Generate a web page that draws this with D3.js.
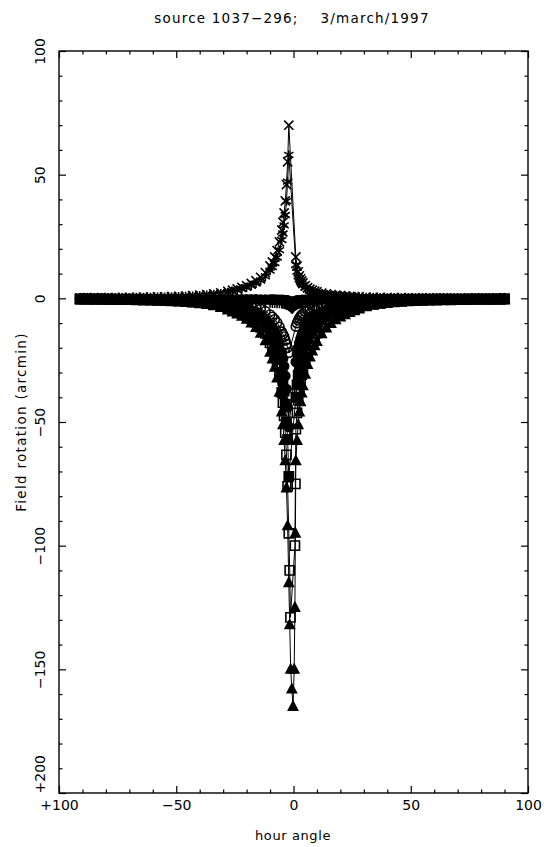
<!DOCTYPE html>
<html>
<head>
<meta charset="utf-8">
<script src="https://cdn.jsdelivr.net/npm/d3@7"></script>
<style>
  body { margin: 0; background: #fff; }
  text { font-family: "DejaVu Sans", sans-serif; fill: #000; }
</style>
</head>
<body>
<div id="chart"></div>
<script>
// hour angle grids shared by the series
const hourLeft = [-91, -88, -85, -82, -79, -76, -73, -70, -67, -64, -61, -58, -55, -52, -49, -46, -43, -40, -37, -34, -31, -28, -26, -24, -22, -20, -18, -16, -14, -12, -10, -9, -8, -7, -6, -5, -4.5, -4, -3.5, -3, -2.5, -2];
const hourRight = [1, 1.5, 2, 2.5, 3, 3.5, 4, 5, 6, 7, 8, 9, 10, 12, 14, 16, 18, 20, 22, 24, 26, 28, 31, 34, 37, 40, 43, 46, 49, 52, 55, 58, 61, 64, 67, 70, 73, 76, 79, 82, 85, 88, 90];

// upper curve, crosses
const crossLeft = [0.2, 0.3, 0.3, 0.3, 0.3, 0.3, 0.4, 0.4, 0.4, 0.5, 0.5, 0.6, 0.6, 0.7, 0.8, 0.9, 1.1, 1.3, 1.5, 1.8, 2.2, 2.8, 3.3, 3.8, 4.4, 5.1, 6.0, 7.1, 8.5, 10.4, 13.1, 14.7, 16.7, 19.3, 22.8, 27.6, 30.7, 34.5, 39.4, 46.0, 55.2, 70.0];
const crossRight = [16.7, 13.0, 10.7, 9.1, 7.9, 7.0, 6.2, 5.1, 4.3, 3.7, 3.3, 2.9, 2.6, 2.1, 1.8, 1.5, 1.3, 1.1, 1.0, 0.8, 0.7, 0.6, 0.5, 0.4, 0.4, 0.3, 0.3, 0.3, 0.2, 0.2, 0.2, 0.2, 0.2, 0.2, 0.1, 0.1, 0.1, 0.1, 0.1, 0.1, 0.1, 0.1, 0.1];

// upper curve, asterisks
const starLeft = [0.2, 0.2, 0.2, 0.2, 0.3, 0.3, 0.3, 0.3, 0.4, 0.4, 0.4, 0.5, 0.5, 0.6, 0.7, 0.8, 0.9, 1.1, 1.3, 1.6, 1.9, 2.4, 2.8, 3.2, 3.8, 4.4, 5.1, 6.0, 7.2, 8.9, 11.2, 12.6, 14.3, 16.5, 19.5, 23.6, 26.2, 29.5, 33.7, 39.3, 47.2, 58.0];
const starRight = [13.5, 10.8, 9.0, 7.7, 6.7, 5.9, 5.3, 4.3, 3.6, 3.1, 2.8, 2.5, 2.2, 1.8, 1.5, 1.3, 1.1, 0.9, 0.8, 0.7, 0.6, 0.5, 0.4, 0.4, 0.3, 0.3, 0.3, 0.2, 0.2, 0.2, 0.2, 0.1, 0.1, 0.1, 0.1, 0.1, 0.1, 0.1, 0.1, 0.1, 0.1, 0.1, 0.1];

// nearly flat series
const flatHourSpike = [-1.5, -1, -0.5, 0, 0.5];
const flatALeft = [-0.2, -0.2, -0.2, -0.2, -0.2, -0.2, -0.2, -0.2, -0.3, -0.3, -0.3, -0.3, -0.3, -0.3, -0.3, -0.3, -0.3, -0.3, -0.3, -0.3, -0.4, -0.4, -0.4, -0.4, -0.4, -0.4, -0.4, -0.4, -0.5, -0.5, -0.5, -0.5, -0.5, -0.6, -0.6, -0.6, -0.7, -0.7, -0.8, -0.8, -0.9, -1.0];
const flatASpike = [-1.2, -1.5, -1.8, -1.6, -1.2];
const flatARight = [-1.0, -0.9, -0.8, -0.8, -0.7, -0.7, -0.6, -0.6, -0.5, -0.5, -0.5, -0.5, -0.5, -0.4, -0.4, -0.4, -0.4, -0.4, -0.4, -0.3, -0.3, -0.3, -0.3, -0.3, -0.3, -0.3, -0.3, -0.3, -0.3, -0.3, -0.2, -0.2, -0.2, -0.2, -0.2, -0.2, -0.2, -0.2, -0.2, -0.2, -0.2, -0.2, -0.2];
const flatBLeft = [-0.6, -0.6, -0.6, -0.7, -0.7, -0.7, -0.8, -0.8, -0.8, -0.9, -0.9, -1.0, -1.0, -1.1, -1.1, -1.2, -1.2, -1.3, -1.3, -1.4, -1.4, -1.5, -1.5, -1.6, -1.6, -1.7, -1.7, -1.8, -1.8, -1.9, -1.9, -2.0, -2.0, -2.1, -2.2, -2.3, -2.4, -2.5, -2.6, -2.8, -3.0, -3.3];
const flatBSpike = [-3.7, -4.2, -4.5, -4.0, -3.4];
const flatBRight = [-3.0, -2.7, -2.5, -2.4, -2.3, -2.2, -2.1, -2.0, -1.9, -1.9, -1.8, -1.8, -1.8, -1.7, -1.7, -1.6, -1.6, -1.5, -1.5, -1.4, -1.4, -1.3, -1.3, -1.2, -1.2, -1.1, -1.1, -1.0, -1.0, -1.0, -0.9, -0.9, -0.9, -0.8, -0.8, -0.8, -0.7, -0.7, -0.7, -0.6, -0.6, -0.6, -0.6];

// lower curves, from the innermost to the outermost
const lowALeft = [-0.1, -0.1, -0.1, -0.1, -0.2, -0.2, -0.2, -0.2, -0.2, -0.2, -0.3, -0.3, -0.3, -0.4, -0.4, -0.5, -0.6, -0.6, -0.8, -0.9, -1.1, -1.4, -1.7, -1.9, -2.2, -2.6, -3.0, -3.6, -4.3, -5.2, -6.6, -7.5, -8.5, -9.8, -11.5, -13.5, -14.5, -15.5, -17, -18.5, -20, -22];
const lowARight = [-11.4, -10.0, -8.9, -8.0, -7.3, -6.7, -6.2, -5.3, -4.7, -4.1, -3.7, -3.3, -3.0, -2.5, -2.1, -1.8, -1.5, -1.3, -1.1, -1.0, -0.9, -0.7, -0.6, -0.5, -0.4, -0.3, -0.3, -0.3, -0.2, -0.2, -0.2, -0.2, -0.1, -0.1, -0.1, -0.1, -0.1, -0.1, -0.1, -0.1, -0.1, -0.1, -0.1];

const lowBLeft = [-0.2, -0.2, -0.2, -0.2, -0.3, -0.3, -0.3, -0.3, -0.3, -0.4, -0.4, -0.5, -0.5, -0.6, -0.7, -0.7, -0.9, -1.0, -1.2, -1.5, -1.8, -2.2, -2.6, -3.0, -3.5, -4.1, -4.8, -5.6, -6.8, -8.2, -10.4, -11.7, -13.3, -15.4, -18.2, -22, -24.4, -27.5, -31.4, -36.7, -44, -52];
const lowBRight = [-25.7, -22.5, -20.0, -18.0, -16.4, -15.0, -13.8, -12.0, -10.5, -9.3, -8.3, -7.5, -6.8, -5.6, -4.7, -4.0, -3.4, -3.0, -2.6, -2.2, -2.0, -1.7, -1.3, -1.1, -0.9, -0.8, -0.7, -0.6, -0.5, -0.5, -0.4, -0.4, -0.3, -0.3, -0.3, -0.3, -0.2, -0.2, -0.2, -0.2, -0.2, -0.2, -0.2];

const lowCLeft = [-0.3, -0.3, -0.3, -0.3, -0.3, -0.4, -0.4, -0.4, -0.5, -0.5, -0.6, -0.6, -0.7, -0.8, -0.9, -1.0, -1.2, -1.4, -1.7, -2.0, -2.4, -3.1, -3.6, -4.1, -4.8, -5.6, -6.5, -7.7, -9.2, -11.2, -14.2, -16.0, -18.2, -21.0, -24.8, -30, -33.3, -37.5, -42.9, -50, -57, -72];
const lowCRight = [-40.0, -35.0, -31.1, -28.0, -25.5, -23.3, -21.5, -18.7, -16.3, -14.4, -12.9, -11.7, -10.6, -8.7, -7.3, -6.2, -5.3, -4.6, -4.0, -3.5, -3.1, -2.6, -2.1, -1.7, -1.5, -1.2, -1.1, -0.9, -0.8, -0.7, -0.6, -0.6, -0.5, -0.5, -0.4, -0.4, -0.4, -0.3, -0.3, -0.3, -0.3, -0.3, -0.2];

const lowDLeft = [-0.3, -0.3, -0.4, -0.4, -0.4, -0.5, -0.5, -0.5, -0.6, -0.7, -0.7, -0.8, -0.9, -1.0, -1.1, -1.3, -1.5, -1.8, -2.1, -2.5, -3.1, -3.9, -4.5, -5.2, -6.0, -7.0, -8.2, -9.7, -11.7, -14.2, -18.0, -20.3, -23.0, -26.6, -31.4, -38, -42.2, -47.5, -54.3, -63.3, -76, -95];
const lowDHourSpike = [-1.6, -1.3, 0.6, 0.8];
const lowDSpike = [-110, -129, -100, -75];
const lowDRight = [-52.9, -46.3, -41.1, -37.0, -33.6, -30.8, -28.5, -24.7, -21.6, -19.1, -17.1, -15.4, -14.1, -11.5, -9.6, -8.2, -7.0, -6.1, -5.3, -4.6, -4.0, -3.5, -2.8, -2.3, -1.9, -1.6, -1.4, -1.2, -1.0, -0.9, -0.8, -0.7, -0.7, -0.6, -0.6, -0.5, -0.5, -0.4, -0.4, -0.4, -0.4, -0.3, -0.3];

const lowELeft = [-0.4, -0.4, -0.5, -0.5, -0.5, -0.5, -0.6, -0.7, -0.7, -0.8, -0.9, -1.0, -1.0, -1.2, -1.4, -1.6, -1.8, -2.1, -2.5, -3.0, -3.7, -4.7, -5.5, -6.3, -7.3, -8.5, -10.0, -11.8, -14.1, -17.2, -21.8, -24.5, -27.9, -32.2, -38, -46, -51.1, -57.5, -65.7, -76.7, -92, -115];
const lowEHourSpike = [-1.6, -1.2, -0.7, -0.2, 0.3, 0.6, 0.8];
const lowESpike = [-132, -150, -158, -165, -150, -125, -95];
const lowERight = [-65.7, -57.5, -51.1, -46.0, -41.8, -38.3, -35.4, -30.7, -26.8, -23.7, -21.3, -19.2, -17.5, -14.3, -12.0, -10.2, -8.7, -7.6, -6.6, -5.7, -5.0, -4.3, -3.4, -2.8, -2.4, -2.0, -1.7, -1.5, -1.3, -1.2, -1.0, -0.9, -0.8, -0.8, -0.7, -0.6, -0.6, -0.5, -0.5, -0.5, -0.4, -0.4, -0.4];

// ticks
const xMajor = [-100, -50, 0, 50, 100];
const xLabels = ["+100", "\u221250", "0", "50", "100"];
const xMinor = [-90, -80, -70, -60, -40, -30, -20, -10, 10, 20, 30, 40, 60, 70, 80, 90];
const yMajor = [100, 50, 0, -50, -100, -150, -200];
const yLabels = ["100", "50", "0", "\u221250", "\u2212100", "\u2212150", "+200"];
const yMinor = [90, 80, 70, 60, 40, 30, 20, 10, -10, -20, -30, -40, -60, -70, -80, -90, -110, -120, -130, -140, -160, -170, -180, -190];

const series = [
  { left: flatALeft, spikeH: flatHourSpike, spike: flatASpike, right: flatARight, marker: "dot" },
  { left: flatBLeft, spikeH: flatHourSpike, spike: flatBSpike, right: flatBRight, marker: "plus" },
  { left: lowALeft, spikeH: [], spike: [], right: lowARight, marker: "circle" },
  { left: lowBLeft, spikeH: [], spike: [], right: lowBRight, marker: "dot" },
  { left: lowCLeft, spikeH: [], spike: [], right: lowCRight, marker: "box" },
  { left: lowDLeft, spikeH: lowDHourSpike, spike: lowDSpike, right: lowDRight, marker: "square" },
  { left: lowELeft, spikeH: lowEHourSpike, spike: lowESpike, right: lowERight, marker: "triangle" },
  { left: starLeft, spikeH: [], spike: [], right: starRight, marker: "star" },
  { left: crossLeft, spikeH: [], spike: [], right: crossRight, marker: "cross" }
];

const W = 544, H = 847;
const frame = { left: 59, right: 528, top: 51, bottom: 793 };

const svg = d3.select("#chart").append("svg")
  .attr("width", W)
  .attr("height", H);

const x = d3.scaleLinear().domain([-100, 100]).range([frame.left, frame.right]);
const y = d3.scaleLinear().domain([-200, 100]).range([frame.bottom, frame.top]);

// title
svg.append("text")
  .attr("x", 292).attr("y", 23)
  .attr("text-anchor", "middle")
  .attr("font-size", 13.5)
  .attr("letter-spacing", 1.2)
  .style("white-space", "pre")
  .text("source 1037\u2212296;    3/march/1997");

// frame
svg.append("rect")
  .attr("x", frame.left).attr("y", frame.top)
  .attr("width", frame.right - frame.left).attr("height", frame.bottom - frame.top)
  .attr("fill", "none").attr("stroke", "#000").attr("stroke-width", 1.4);

function strip(g) {
  g.select(".domain").remove();
  g.selectAll("line").attr("stroke", "#000").attr("stroke-width", 1.2);
}

// x axes, ticks inward
svg.append("g").attr("transform", `translate(0,${frame.bottom})`)
  .call(d3.axisBottom(x).tickValues(xMajor).tickSize(-7).tickPadding(7)
    .tickFormat((d, i) => xLabels[i]))
  .call(strip)
  .call(g => g.selectAll("text").attr("font-size", 14).attr("font-family", "DejaVu Sans"));
svg.append("g").attr("transform", `translate(0,${frame.bottom})`)
  .call(d3.axisBottom(x).tickValues(xMinor).tickSize(-3.5).tickFormat(""))
  .call(strip);
svg.append("g").attr("transform", `translate(0,${frame.top})`)
  .call(d3.axisTop(x).tickValues(xMajor).tickSize(-7).tickFormat(""))
  .call(strip);
svg.append("g").attr("transform", `translate(0,${frame.top})`)
  .call(d3.axisTop(x).tickValues(xMinor).tickSize(-3.5).tickFormat(""))
  .call(strip);

// y axes, ticks inward, labels rotated (the bottom one kept inside the frame)
svg.append("g").attr("transform", `translate(${frame.left},0)`)
  .call(d3.axisLeft(y).tickValues(yMajor).tickSize(-7)
    .tickFormat((d, i) => yLabels[i]))
  .call(strip)
  .call(g => g.selectAll("text")
    .attr("x", null).attr("dy", null)
    .attr("text-anchor", d => d === -200 ? "start" : "middle")
    .attr("font-size", 14).attr("font-family", "DejaVu Sans")
    .attr("transform", "translate(-14,0) rotate(-90)"));
svg.append("g").attr("transform", `translate(${frame.left},0)`)
  .call(d3.axisLeft(y).tickValues(yMinor).tickSize(-3.5).tickFormat(""))
  .call(strip);
svg.append("g").attr("transform", `translate(${frame.right},0)`)
  .call(d3.axisRight(y).tickValues(yMajor).tickSize(-7).tickFormat(""))
  .call(strip);
svg.append("g").attr("transform", `translate(${frame.right},0)`)
  .call(d3.axisRight(y).tickValues(yMinor).tickSize(-3.5).tickFormat(""))
  .call(strip);

// axis titles
svg.append("text")
  .attr("x", 293).attr("y", 840)
  .attr("text-anchor", "middle")
  .attr("font-size", 13)
  .attr("letter-spacing", 0.6)
  .text("hour angle");
svg.append("text")
  .attr("transform", `translate(26,${(frame.top + frame.bottom) / 2}) rotate(-90)`)
  .attr("text-anchor", "middle")
  .attr("font-size", 13.5)
  .attr("letter-spacing", 1.3)
  .text("Field rotation (arcmin)");

// data
function points(s) {
  const pts = [];
  hourLeft.forEach((h, i) => pts.push([h, s.left[i]]));
  s.spikeH.forEach((h, i) => pts.push([h, s.spike[i]]));
  hourRight.forEach((h, i) => pts.push([h, s.right[i]]));
  return pts.filter(p => p[1] !== null);
}

const r = 4.6;
const markers = {
  dot: `M${r},0A${r},${r},0,1,1,${-r},0A${r},${r},0,1,1,${r},0Z`,
  circle: `M${r},0A${r},${r},0,1,1,${-r},0A${r},${r},0,1,1,${r},0Z`,
  box: `M${-r},${-r}H${r}V${r}H${-r}Z`,
  square: `M${-r},${-r}H${r}V${r}H${-r}Z`,
  triangle: `M0,${-r * 1.1}L${r},${r * 0.8}L${-r},${r * 0.8}Z`,
  cross: `M${-r},${-r}L${r},${r}M${-r},${r}L${r},${-r}`,
  plus: `M${-r},0H${r}M0,${-r}V${r}`,
  star: `M0,${-r}V${r}M${-r},${-r * 0.6}L${r},${r * 0.6}M${-r},${r * 0.6}L${r},${-r * 0.6}`
};
const filled = { dot: true, box: true, triangle: true };

const line = d3.line().x(d => x(d[0])).y(d => y(d[1]));

const plot = svg.append("g");
series.forEach(s => {
  const pts = points(s);
  plot.append("path")
    .attr("d", line(pts))
    .attr("fill", "none")
    .attr("stroke", "#000")
    .attr("stroke-width", 1);
  plot.selectAll(null)
    .data(pts)
    .join("path")
    .attr("transform", d => `translate(${x(d[0])},${y(d[1])})`)
    .attr("d", markers[s.marker])
    .attr("fill", filled[s.marker] ? "#000" : "none")
    .attr("stroke", "#000")
    .attr("stroke-width", 1.6);
});
</script>
</body>
</html>
